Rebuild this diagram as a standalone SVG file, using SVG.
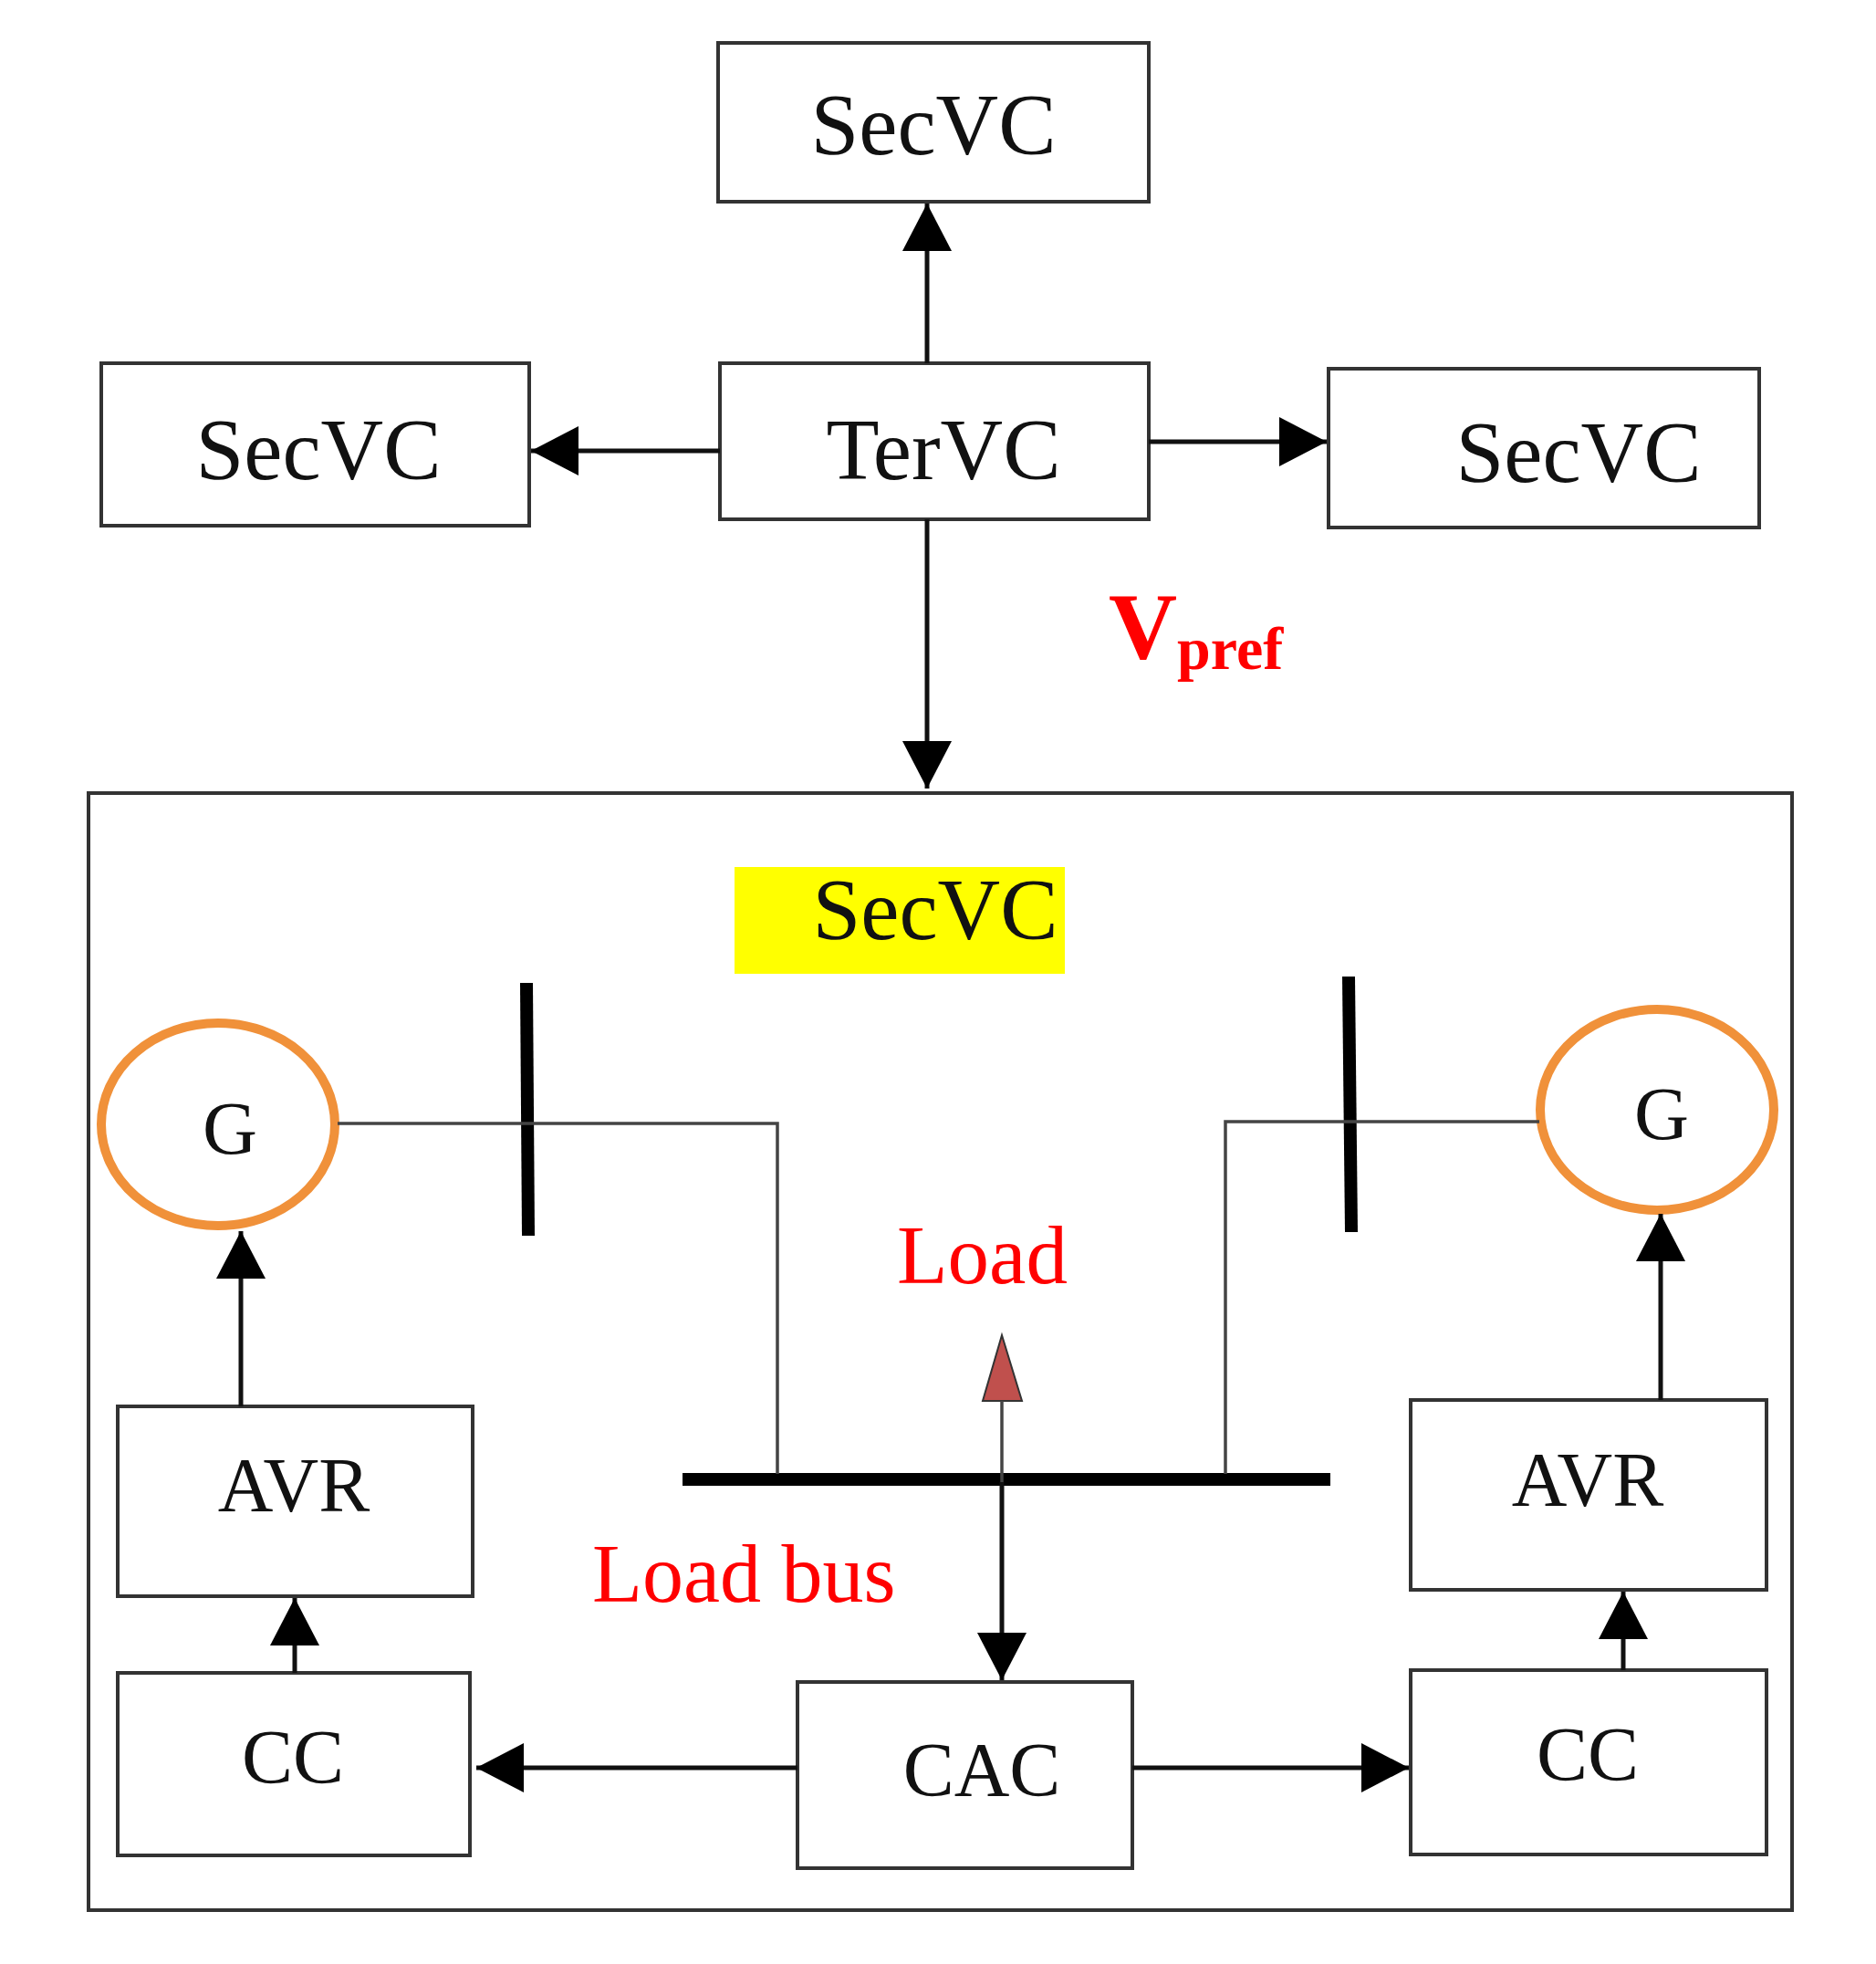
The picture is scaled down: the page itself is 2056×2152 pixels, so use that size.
<svg xmlns="http://www.w3.org/2000/svg" width="2056" height="2152" viewBox="0 0 2056 2152">
<style>
.box{fill:#fff;stroke:#333;stroke-width:4}
.t{font-family:"Liberation Serif",serif;fill:#111}
.r{font-family:"Liberation Serif",serif;fill:#f00}
.c{stroke:#111;stroke-width:5;fill:none}
.w{stroke:#444;stroke-width:3.5;fill:none}
.bar{stroke:#000;stroke-width:14;stroke-linecap:butt}
.gen{fill:none;stroke:#f0913a;stroke-width:10}
</style>
<defs>
<marker id="ahb" viewBox="0 0 10 10" refX="10" refY="5" markerWidth="52" markerHeight="54" markerUnits="userSpaceOnUse" orient="auto" preserveAspectRatio="none">
<path d="M0,0 L10,5 L0,10 z" fill="#000"/>
</marker>
</defs>
<rect width="2056" height="2152" fill="#fff"/>
<g id="outer"><rect class="box" x="97" y="869" width="1867" height="1224"/></g>
<g id="secvc-top"><rect class="box" x="787" y="47" width="472" height="174"/><text class="t" x="1023" y="169" font-size="95" text-anchor="middle">SecVC</text></g>
<g id="secvc-left"><rect class="box" x="111" y="398" width="469" height="178"/><text class="t" x="349" y="525" font-size="95" text-anchor="middle">SecVC</text></g>
<g id="tervc"><rect class="box" x="789" y="398" width="470" height="171"/><text class="t" x="1034" y="525" font-size="95" text-anchor="middle">TerVC</text></g>
<g id="secvc-right"><rect class="box" x="1456" y="404" width="472" height="174"/><text class="t" x="1730" y="528" font-size="95" text-anchor="middle">SecVC</text></g>
<g id="vpref"><text class="r" x="1215" y="721" font-size="104" font-weight="bold">V<tspan font-size="66" dy="12">pref</tspan></text></g>
<g id="secvc-label"><rect x="805" y="950" width="362" height="117" fill="#ffff00"/><text class="t" x="1025" y="1029" font-size="95" text-anchor="middle">SecVC</text></g>
<g id="gen-left"><ellipse class="gen" cx="239" cy="1232" rx="128" ry="111"/><text class="t" x="252" y="1264" font-size="83" text-anchor="middle">G</text></g>
<g id="gen-right"><ellipse class="gen" cx="1816" cy="1216" rx="128" ry="110"/><text class="t" x="1821" y="1248" font-size="83" text-anchor="middle">G</text></g>
<g id="avr-left"><rect class="box" x="129" y="1541" width="389" height="208"/><text class="t" x="322" y="1656" font-size="84" text-anchor="middle">AVR</text></g>
<g id="cc-left"><rect class="box" x="129" y="1833" width="386" height="200"/><text class="t" x="321" y="1954" font-size="84" text-anchor="middle">CC</text></g>
<g id="avr-right"><rect class="box" x="1546" y="1534" width="390" height="208"/><text class="t" x="1740" y="1650" font-size="84" text-anchor="middle">AVR</text></g>
<g id="cc-right"><rect class="box" x="1546" y="1830" width="390" height="202"/><text class="t" x="1740" y="1951" font-size="84" text-anchor="middle">CC</text></g>
<g id="cac"><rect class="box" x="874" y="1843" width="367" height="204"/><text class="t" x="1076" y="1968" font-size="84" text-anchor="middle">CAC</text></g>
<g id="load-bus"><line class="bar" x1="748" y1="1621" x2="1458" y2="1621" stroke-width="13"/><text class="r" x="649" y="1755" font-size="90">Load bus</text></g>
<g id="load"><text class="r" x="983" y="1406" font-size="91">Load</text><path d="M1098,1463 L1120,1535 L1077,1535 Z" fill="#c0504d" stroke="#333" stroke-width="2"/></g>
<g id="bus-left"><line class="bar" x1="577" y1="1077" x2="579" y2="1354"/></g>
<g id="bus-right"><line class="bar" x1="1478" y1="1070" x2="1481" y2="1350"/></g>
<g id="connectors">
<line class="c" x1="1016" y1="398" x2="1016" y2="223" marker-end="url(#ahb)"/>
<line class="c" x1="789" y1="494" x2="582" y2="494" marker-end="url(#ahb)"/>
<line class="c" x1="1259" y1="484" x2="1454" y2="484" marker-end="url(#ahb)"/>
<line class="c" x1="1016" y1="569" x2="1016" y2="864" marker-end="url(#ahb)"/>
<polyline class="w" points="370,1231 852,1231 852,1615"/>
<polyline class="w" points="1687,1229 1343,1229 1343,1615"/>
<line class="w" x1="1098" y1="1535" x2="1098" y2="1624" stroke-width="3"/>
<line class="c" x1="1098" y1="1624" x2="1098" y2="1841" marker-end="url(#ahb)"/>
<line class="c" x1="264" y1="1541" x2="264" y2="1349" marker-end="url(#ahb)"/>
<line class="c" x1="1820" y1="1534" x2="1820" y2="1330" marker-end="url(#ahb)"/>
<line class="c" x1="323" y1="1833" x2="323" y2="1751" marker-end="url(#ahb)"/>
<line class="c" x1="1779" y1="1830" x2="1779" y2="1744" marker-end="url(#ahb)"/>
<line class="c" x1="874" y1="1937" x2="522" y2="1937" marker-end="url(#ahb)"/>
<line class="c" x1="1241" y1="1937" x2="1544" y2="1937" marker-end="url(#ahb)"/>
</g>
</svg>
